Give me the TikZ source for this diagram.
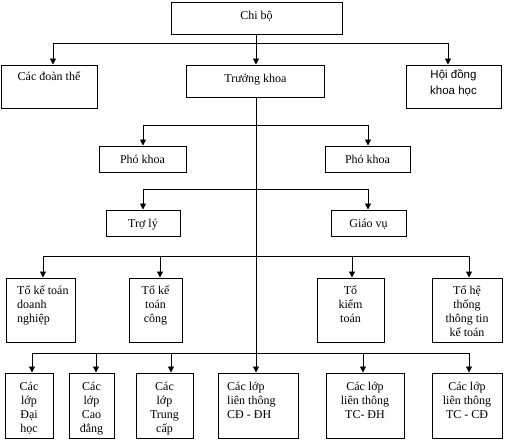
\documentclass[tikz,border=0pt]{standalone}
\usepackage{fontspec}
\setmainfont{Liberation Serif}
\newfontfamily\arialf{Liberation Sans}
\usetikzlibrary{arrows.meta}
\newcommand\mybox[5]{\node[box, minimum width={#4-#2}, minimum height={#5-#3}] (#1) at ({(#2+#4)/2},{(#3+#5)/2}) {};}
\newcommand\mylines[2]{\begin{tabular}[t]{@{}#1@{}}#2\end{tabular}}
\begin{document}
\begin{tikzpicture}[x=1pt,y=-1pt,
  box/.style={draw, line width=1pt, inner sep=0pt},
  lbl/.style={font=\fontsize{12}{14}\selectfont, inner sep=0pt},
  conn/.style={line width=0.8pt},
  arr/.style={conn, -{Triangle[length=6pt,width=6pt]}}]
\useasboundingbox (0,0) rectangle (509,442);
% boxes
\mybox{chibo}{171}{2}{342}{34}
\mybox{doan}{1}{65}{97}{108}
\mybox{tk}{186}{65}{324}{97}
\mybox{hd}{406}{65}{501}{108}
\mybox{pk1}{99}{146}{186}{172}
\mybox{pk2}{325}{146}{410}{172}
\mybox{tl}{106}{210}{180}{236}
\mybox{gv}{331}{210}{406}{236}
\mybox{t1}{6}{278}{75}{342}
\mybox{t2}{129}{278}{182}{342}
\mybox{t3}{317}{278}{384}{342}
\mybox{t4}{432}{278}{502}{342}
\mybox{c1}{5}{373}{53}{438}
\mybox{c2}{69}{373}{114}{438}
\mybox{c3}{136}{373}{193}{438}
\mybox{c4}{218}{373}{298}{438}
\mybox{c5}{326}{373}{404}{438}
\mybox{c6}{432}{373}{502}{438}
% labels
\node[lbl, anchor=base] (chibo-t) at (256.5,19) {Chi bộ};
\node[lbl, anchor=base] (doan-t) at (49,80) {Các đoàn thể};
\node[lbl, anchor=base] (tk-t) at (255.5,82) {Trưởng khoa};
\node[lbl, anchor=base, font=\arialf\fontsize{11.5}{16}\selectfont] (hd-t) at (453.5,78) {\mylines{c}{Hội đồng\\khoa học}};
\node[lbl, anchor=base] (pk1-t) at (142.5,163) {Phó khoa};
\node[lbl, anchor=base] (pk2-t) at (367.5,163) {Phó khoa};
\node[lbl, anchor=base] (tl-t) at (143,227) {Trợ lý};
\node[lbl, anchor=base] (gv-t) at (368.5,227) {Giáo vụ};
\node[lbl, anchor=base west] (t1-t) at (17,294) {\mylines{l}{Tổ kế toán\\doanh\\nghiệp}};
\node[lbl, anchor=base] (t2-t) at (155.5,294) {\mylines{c}{Tổ kế\\toán\\công}};
\node[lbl, anchor=base] (t3-t) at (350.5,294) {\mylines{c}{Tổ\\kiểm\\toán}};
\node[lbl, anchor=base] (t4-t) at (467,294) {\mylines{c}{Tổ hệ\\thống\\thông tin\\kế toán}};
\node[lbl, anchor=base] (c1-t) at (29,390) {\mylines{c}{Các\\lớp\\Đại\\học}};
\node[lbl, anchor=base] (c2-t) at (91.5,390) {\mylines{c}{Các\\lớp\\Cao\\đẳng}};
\node[lbl, anchor=base] (c3-t) at (164.5,390) {\mylines{c}{Các\\lớp\\Trung\\cấp}};
\node[lbl, anchor=base west] (c4-t) at (227,390) {\mylines{l}{Các lớp\\liên thông\\CĐ - ĐH}};
\node[lbl, anchor=base] (c5-t) at (365,390) {\mylines{c}{Các lớp\\liên thông\\TC- ĐH}};
\node[lbl, anchor=base] (c6-t) at (467,390) {\mylines{c}{Các lớp\\liên thông\\TC - CĐ}};
% spine
\coordinate (sp) at (256,0);
\draw[arr] (chibo.south -| sp) -- (tk.north -| sp);
\draw[arr] (tk.south -| sp) -- (c4.north -| sp);
% level 1
\coordinate (a1) at (53,43);
\coordinate (a2) at (448,43);
\draw[conn] (a1) -- (a2);
\draw[arr] (a1) -- (a1 |- doan.north);
\draw[arr] (a2) -- (a2 |- hd.north);
% pho khoa
\coordinate (b1) at (143,125);
\coordinate (b2) at (368,125);
\draw[conn] (b1) -- (b2);
\draw[arr] (b1) -- (b1 |- pk1.north);
\draw[arr] (b2) -- (b2 |- pk2.north);
% tro ly / giao vu
\coordinate (d1) at (143,189);
\coordinate (d2) at (368,189);
\draw[conn] (d1) -- (d2);
\draw[arr] (d1) -- (d1 |- tl.north);
\draw[arr] (d2) -- (d2 |- gv.north);
% to
\coordinate (e1) at (43,256);
\coordinate (e2) at (160,256);
\coordinate (e3) at (352,256);
\coordinate (e4) at (469,256);
\draw[conn] (e1) -- (e4);
\draw[arr] (e1) -- (e1 |- t1.north);
\draw[arr] (e2) -- (e2 |- t2.north);
\draw[arr] (e3) -- (e3 |- t3.north);
\draw[arr] (e4) -- (e4 |- t4.north);
% cac lop
\coordinate (f1) at (32,353);
\coordinate (f2) at (96,353);
\coordinate (f3) at (171,353);
\coordinate (f5) at (363,353);
\coordinate (f6) at (469,353);
\draw[conn] (f1) -- (f6);
\draw[arr] (f1) -- (f1 |- c1.north);
\draw[arr] (f2) -- (f2 |- c2.north);
\draw[arr] (f3) -- (f3 |- c3.north);
\draw[arr] (f5) -- (f5 |- c5.north);
\draw[arr] (f6) -- (f6 |- c6.north);
\end{tikzpicture}
\end{document}
